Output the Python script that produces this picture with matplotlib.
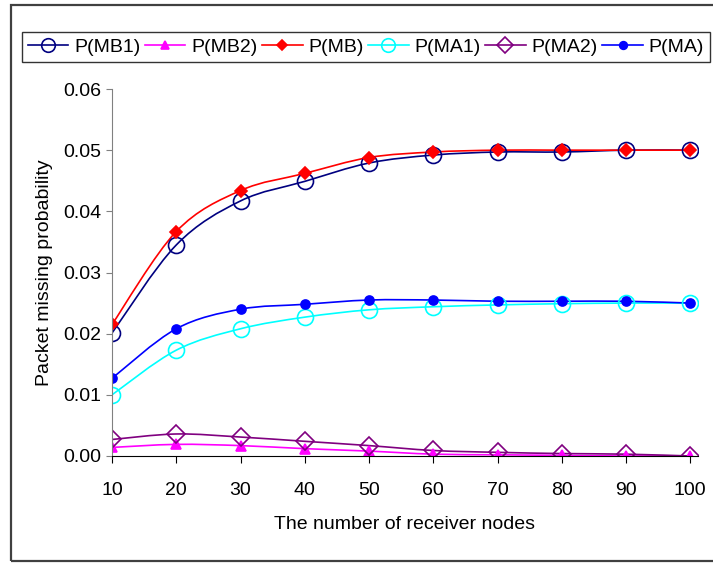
import numpy as np
import matplotlib
matplotlib.use("Agg")
import matplotlib.pyplot as plt
from matplotlib.path import Path
from matplotlib.patches import PathPatch, Rectangle
from matplotlib.lines import Line2D

plt.rcParams['font.family'] = ['Liberation Sans', 'DejaVu Sans']

nodes = [10, 20, 30, 40, 50, 60, 70, 80, 90, 100]

p_mb1 = [0.0201, 0.0345, 0.0417, 0.0449, 0.0479, 0.0492, 0.0497, 0.0497, 0.0500, 0.0500]
p_mb2 = [0.0014, 0.0019, 0.0017, 0.0012, 0.0008, 0.0003, 0.0002, 0.0001, 0.0000, 0.0000]
p_mb = [0.0215, 0.0367, 0.0434, 0.0462, 0.0488, 0.0497, 0.0500, 0.0500, 0.0500, 0.0500]
p_ma1 = [0.0100, 0.0173, 0.0208, 0.0227, 0.0239, 0.0244, 0.0247, 0.0249, 0.0250, 0.0250]
p_ma2 = [0.0027, 0.0036, 0.0031, 0.0024, 0.0017, 0.0009, 0.0006, 0.0004, 0.0003, 0.0000]
p_ma = [0.0127, 0.0208, 0.0240, 0.0248, 0.0255, 0.0255, 0.0253, 0.0253, 0.0253, 0.0250]

labels = ["P(MB1)", "P(MB2)", "P(MB)", "P(MA1)", "P(MA2)", "P(MA)"]
series = [p_mb1, p_mb2, p_mb, p_ma1, p_ma2, p_ma]

# colour, marker, size, filled
styles = [
    ("#000080", "o", 11.5, False),
    ("#FF00FF", "^", 7.5, True),
    ("#FF0000", "D", 6.5, True),
    ("#00FFFF", "o", 11.5, False),
    ("#800080", "D", 9.5, False),
    ("#0000FF", "o", 6.5, True),
]


def smooth_path(x, y):
    # excel-like smoothed line: catmull-rom segments as cubic beziers
    x = np.asarray(x, float)
    y = np.asarray(y, float)
    pts = np.column_stack([x, y])
    ext = np.vstack([pts[0], pts, pts[-1]])
    verts = [pts[0]]
    codes = [Path.MOVETO]
    for i in range(len(pts) - 1):
        p0, p1, p2, p3 = ext[i], ext[i + 1], ext[i + 2], ext[i + 3]
        c1 = p1 + (p2 - p0) / 6.0
        c2 = p2 - (p3 - p1) / 6.0
        verts += [c1, c2, p2]
        codes += [Path.CURVE4] * 3
    return Path(verts, codes)


fig = plt.figure(figsize=(7.13, 5.63), dpi=100)
ax = fig.add_axes([112 / 713, 1 - 456 / 563, (698 - 112) / 713, (456 - 89) / 563])

handles = []
for vals, lab, (col, mk, ms, filled) in zip(series, labels, styles):
    patch = PathPatch(smooth_path(nodes, vals), facecolor="none", edgecolor=col,
                      lw=1.2, transform=ax.transData)
    ax.add_patch(patch)
    fc = col if filled else "none"
    ax.plot(nodes, vals, ls="none", marker=mk, ms=ms, mfc=fc, mec=col, mew=1.2)
    handles.append(Line2D([], [], color=col, lw=1.2, marker=mk, ms=ms * 0.85,
                          mfc=fc, mec=col, mew=1.2))

ax.set_xlim(10, 101.2)
ax.set_ylim(0, 0.06)
ax.set_xticks(nodes)
ax.set_yticks(np.arange(0, 0.061, 0.01))
ax.set_yticklabels(["%.2f" % v for v in np.arange(0, 0.061, 0.01)])

for s in ["top", "right"]:
    ax.spines[s].set_visible(False)
ax.spines["left"].set_color("#808080")
ax.spines["bottom"].set_color("black")
ax.tick_params(axis="y", direction="out", length=4, color="#808080",
               labelsize=14, pad=4)
ax.tick_params(axis="x", direction="out", length=5, color="black",
               labelsize=14, pad=14)

ax.set_xlabel("The number of receiver nodes", fontsize=14, labelpad=12)
ax.set_ylabel("Packet missing probability", fontsize=14, labelpad=7)

leg = fig.legend(handles, labels, ncol=6, loc="lower left", mode="expand",
                 bbox_to_anchor=(21.7 / 713, 1 - 61.7 / 563, (710 - 21.7) / 713, 38.4 / 563),
                 fontsize=14, frameon=True, fancybox=False, borderpad=0.3,
                 handlelength=2.1, handletextpad=0.3, columnspacing=0.4,
                 borderaxespad=0)
leg.get_frame().set_edgecolor("black")
leg.get_frame().set_linewidth(1.0)

fig.patches.append(Rectangle((10.7 / 713, 1 - 561 / 563), 1.05, (561 - 5) / 563,
                             transform=fig.transFigure, fill=False,
                             edgecolor="#404040", lw=1.6))

fig.savefig("out.png", dpi=100)
